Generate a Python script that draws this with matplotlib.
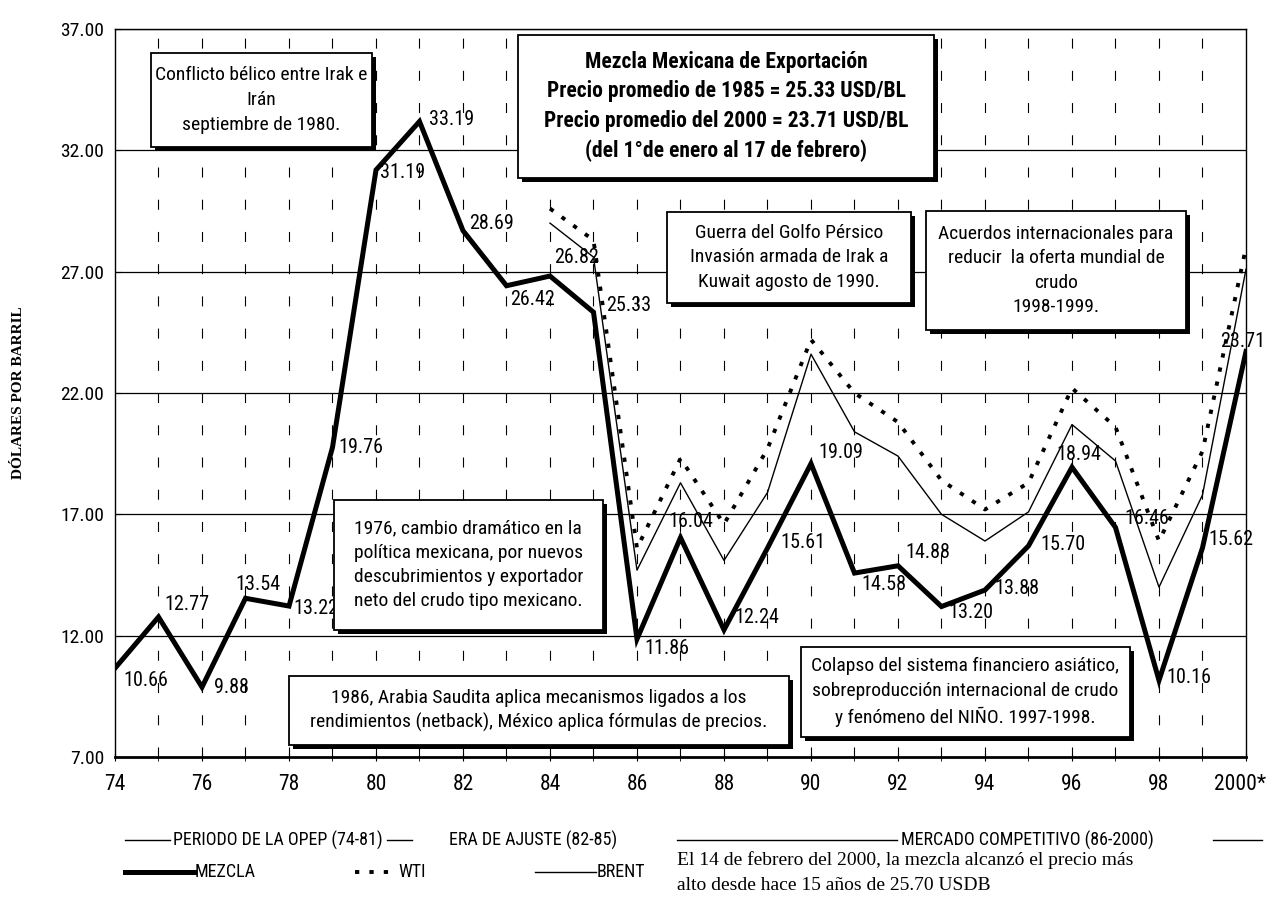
import numpy as np
import matplotlib
matplotlib.use("Agg")
import matplotlib.pyplot as plt
import matplotlib.patheffects as pe
import matplotlib.transforms as mtransforms
from matplotlib import font_manager as fm
from matplotlib.patches import Rectangle
from matplotlib.lines import Line2D


def pick_narrow():
    # look for a condensed sans face; fall back to Liberation Sans
    for fam in ['Liberation Sans Narrow', 'Roboto Condensed', 'Open Sans Condensed',
                'Noto Sans Condensed', 'DejaVu Sans Condensed']:
        try:
            fm.findfont(fm.FontProperties(family=fam), fallback_to_default=False)
            return fam, 'normal'
        except Exception:
            pass
    for fam in ['Roboto', 'Noto Sans', 'Open Sans', 'DejaVu Sans']:
        f = fm.findfont(fm.FontProperties(family=fam, stretch='condensed'))
        if 'ondensed' in f or 'arrow' in f:
            return fam, 'condensed'
    return 'Liberation Sans', 'normal'


NARROW, STRETCH = pick_narrow()
IS_NARROW = not (NARROW == 'Liberation Sans')
SERIF = 'Liberation Serif'
SZ = 14 if IS_NARROW else 12

# --- data (USD per barrel) ---
years = list(range(1974, 2001))
mezcla = [10.66, 12.77, 9.88, 13.54, 13.22, 19.76, 31.19, 33.19, 28.69, 26.42,
          26.82, 25.33, 11.86, 16.04, 12.24, 15.61, 19.09, 14.58, 14.88, 13.20,
          13.88, 15.70, 18.94, 16.46, 10.16, 15.62, 23.71]
bench_years = list(range(1984, 2001))
wti = [29.6, 28.3, 15.6, 19.3, 16.6, 19.7, 24.2, 22.0, 20.8, 18.4,
       17.2, 18.3, 22.2, 20.6, 15.9, 19.6, 28.0]
brent = [29.0, 27.6, 14.7, 18.3, 15.1, 17.9, 23.6, 20.4, 19.4, 17.0,
         15.9, 17.1, 20.7, 19.2, 14.0, 17.8, 27.1]
xtick_years = list(range(1974, 2001, 2))
xtick_labels = ['74', '76', '78', '80', '82', '84', '86', '88', '90', '92', '94', '96', '98', '2000*']
yticks = [7, 12, 17, 22, 27, 32, 37]

# label offsets (pixels right of point to text start, pixels up) for each mezcla value
label_offsets = [(8, -12), (6, 12), (12, 0), (-10, 14), (4, -2), (6, 0), (4, -3), (10, 2),
                 (6, 7), (4, -14), (4, 19), (13, 7), (7, -9), (-12, 16), (10, 12),
                 (13, 6), (7, 11), (7, -11), (7, 13), (7, -6), (9, 2), (12, 1),
                 (-16, 13), (9, 9), (7, 3), (6, 8), (-26, 10)]

W, H = 1267, 900
fig = plt.figure(figsize=(W / 100, H / 100), dpi=100)
ax = fig.add_axes([115 / W, 1 - 757 / H, (1246 - 115) / W, (757 - 29) / H])
ax.set_xlim(1974, 2000)
ax.set_ylim(7, 37)

font = dict(family=NARROW, stretch=STRETCH)

# grid
for yv in yticks[1:]:
    ax.axhline(yv, color='black', lw=0.9, zorder=1)
for yr in years[1:-1]:
    ax.axvline(yr, color='black', lw=0.8, ls=(0, (9, 20)), zorder=1)

# series
ax.plot(bench_years, brent, color='black', lw=1.0, zorder=3)
ax.plot(bench_years, wti, color='black', lw=2.8, ls=(0, (1.1, 2.6)), zorder=3)
ax.plot(years, mezcla, color='black', lw=3.6, solid_joinstyle='miter', zorder=4)

for x, v, (dx, dy) in zip(years, mezcla, label_offsets):
    ax.annotate(f'{v:.2f}', (x, v), xytext=(dx * 0.72, dy * 0.72), textcoords='offset points',
                ha='left', va='center', fontsize=SZ + 0.5, zorder=6, **font)

# axes styling
for s in ['left', 'right', 'top']:
    ax.spines[s].set_linewidth(1.0)
ax.spines['bottom'].set_linewidth(2.0)
ax.set_yticks(yticks)
ax.set_yticklabels([f'{v:.2f}' for v in yticks], fontsize=SZ, **font)
ax.set_xticks(xtick_years)
ax.set_xticklabels(xtick_labels, fontsize=SZ + 1.5, **font)
ax.set_xticks(years, minor=True)
ax.tick_params(axis='x', which='both', direction='inout', length=6, pad=9)
ax.tick_params(axis='y', direction='in', length=4, pad=8)
# nudge the last year label so it stays inside the figure
last = ax.get_xticklabels()[-1]
last.set_transform(last.get_transform() + mtransforms.ScaledTranslation(-0.06, 0, fig.dpi_scale_trans))

ax.text(-0.085, 0.5, 'DÓLARES POR BARRIL', transform=ax.transAxes, rotation=90,
        ha='center', va='center', family=SERIF, fontweight='bold', fontsize=11)

shadow = [pe.SimplePatchShadow(offset=(3, -3), shadow_rgbFace='black', alpha=1.0), pe.Normal()]


def note(x0, x1, y0, y1, text, size=SZ, weight='normal', ls=1.45):
    r = Rectangle((x0, y0), x1 - x0, y1 - y0, fc='white', ec='black', lw=1.3, zorder=7)
    r.set_path_effects(shadow)
    ax.add_patch(r)
    ax.text((x0 + x1) / 2, (y0 + y1) / 2, text, ha='center', va='center',
            fontsize=size, fontweight=weight, linespacing=ls, zorder=8, **font)


note(1974.83, 1979.90, 32.13, 36.01, 'Conflicto bélico entre Irak e\nIrán\nseptiembre de 1980.', ls=1.5)
note(1983.26, 1992.83, 30.86, 36.75,
     'Mezcla Mexicana de Exportación\nPrecio promedio de 1985 = 25.33 USD/BL\n'
     'Precio promedio del 2000 = 23.71 USD/BL\n(del 1°de enero al 17 de febrero)',
     size=SZ + 1.5, weight='bold', ls=1.45)
note(1986.68, 1992.30, 25.71, 29.46, 'Guerra del Golfo Pérsico\nInvasión armada de Irak a\nKuwait agosto de 1990.')
note(1992.65, 1998.62, 24.59, 29.50, 'Acuerdos internacionales para\nreducir  la oferta mundial de\ncrudo\n1998-1999.')
note(1979.03, 1985.21, 12.23, 17.60, '1976, cambio dramático en la\npolítica mexicana, por nuevos\n'
     'descubrimientos y exportador\nneto del crudo tipo mexicano.')
note(1978.00, 1989.50, 7.49, 10.34, '1986, Arabia Saudita aplica mecanismos ligados a los\n'
     'rendimientos (netback), México aplica fórmulas de precios.', ls=1.4)
note(1989.76, 1997.33, 7.82, 11.53, 'Colapso del sistema financiero asiático,\n'
     'sobreproducción internacional de crudo\ny fenómeno del NIÑO. 1997-1998.')


# --- bottom legend (figure pixel coordinates) ---
def fx(px):
    return px / W


def fy(py):
    return 1 - py / H


def hline(x0, x1, y, lw=1.0, ls='-'):
    fig.add_artist(Line2D([fx(x0), fx(x1)], [fy(y), fy(y)], color='black', lw=lw, ls=ls))


def ftext(x, y, s, **kw):
    if 'family' not in kw:
        kw.update(font)
    kw.setdefault('fontsize', SZ - 1)
    fig.text(fx(x), fy(y), s, va='center', **kw)


row1 = 840
hline(125, 170, row1)
ftext(173, row1, 'PERIODO DE LA OPEP (74-81)')
hline(387, 412, row1)
ftext(449, row1, 'ERA DE AJUSTE (82-85)')
hline(677, 897, row1)
ftext(901, row1, 'MERCADO COMPETITIVO (86-2000)')
hline(1213, 1262, row1)

row2 = 872
hline(125, 194, row2, lw=3.6)
ftext(195, row2, 'MEZCLA')
hline(355, 397, row2, lw=2.8, ls=(0, (1.1, 2.6)))
ftext(398, row2, 'WTI')
hline(535, 596, row2)
ftext(597, row2, 'BRENT')
ftext(677, 860, 'El 14 de febrero del 2000, la mezcla alcanzó el precio más', family=SERIF, fontsize=14)
ftext(677, 885, 'alto desde hace 15 años de 25.70 USDB', family=SERIF, fontsize=14)

fig.savefig('out.png', dpi=100)
